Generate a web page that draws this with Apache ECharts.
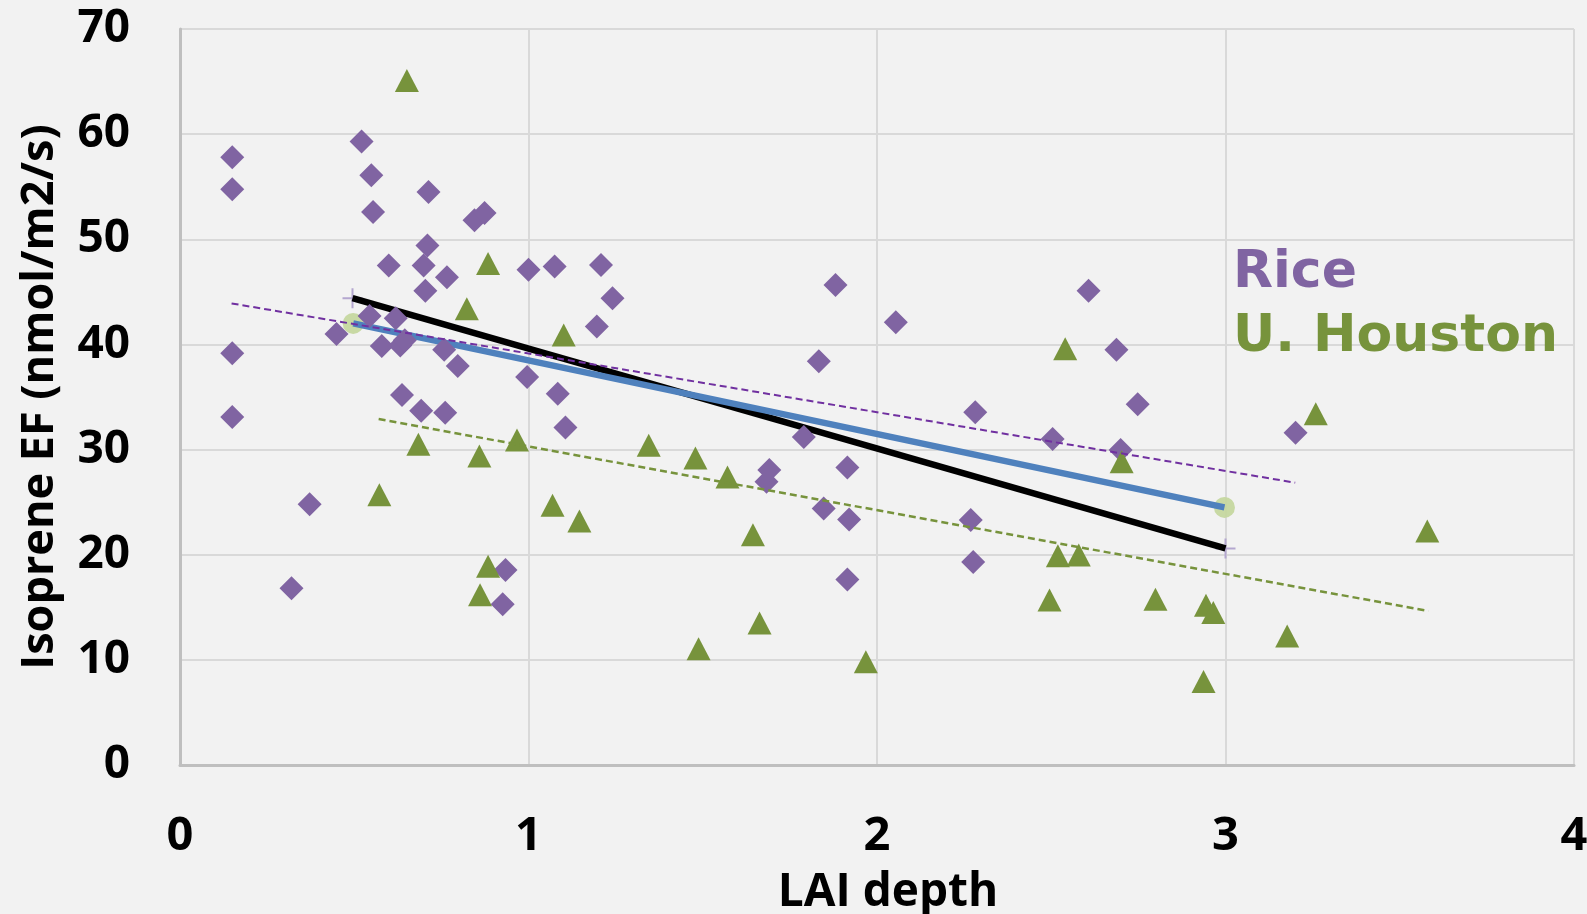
<!DOCTYPE html>
<html>
<head>
<meta charset="utf-8">
<script src="https://cdn.jsdelivr.net/npm/echarts@6/dist/echarts.min.js"></script>
<style>
html,body{margin:0;padding:0;background:#f2f2f2;}
#chart{width:1587px;height:914px;}
</style>
</head>
<body>
<div id="chart"></div>
<script>
// ---- data ----
var xTicks = [0, 1, 2, 3, 4];
var yTicks = [0, 10, 20, 30, 40, 50, 60, 70];

var riceX = [0.150,0.150,0.150,0.150,0.320,0.372,0.449,0.521,0.549,0.554,0.544,0.579,0.599,0.619,0.632,0.645,0.637,0.692,0.699,0.704,0.710,0.713,0.758,0.761,0.766,0.797,0.845,0.874,0.926,0.934,0.996,1.000,1.075,1.084,1.106,1.196,1.208,1.241,1.683,1.691,1.790,1.833,1.847,1.881,1.915,1.920,1.915,2.054,2.269,2.276,2.282,2.504,2.607,2.687,2.699,2.748,3.201];
var riceY = [57.8,54.75,39.15,33.1,16.8,24.8,41.0,59.3,56.1,52.6,42.7,39.85,47.5,42.5,39.9,40.4,35.2,33.7,47.5,45.1,49.4,54.5,39.5,33.5,46.4,37.95,51.8,52.5,15.3,18.55,36.9,47.1,47.4,35.3,32.1,41.7,47.55,44.4,26.95,28.06,31.2,38.4,24.4,45.65,28.3,23.35,17.65,42.1,23.3,19.3,33.55,31.0,45.1,39.5,29.96,34.3,31.6];

var uhX = [0.572,0.651,0.684,0.823,0.859,0.861,0.884,0.884,0.967,1.069,1.101,1.146,1.345,1.479,1.488,1.571,1.644,1.663,1.968,2.495,2.519,2.540,2.579,2.702,2.799,2.937,2.944,2.965,3.177,3.259,3.579];
var uhY = [25.7,65.1,30.5,43.4,29.4,16.2,47.7,18.9,30.9,24.7,40.9,23.2,30.4,29.2,11.06,27.4,21.9,13.5,9.83,15.7,19.9,39.6,19.97,28.85,15.76,7.93,15.2,14.5,12.27,33.4,22.25];

var riceTrendX = [0.148, 3.2];
var riceTrendY = [43.9, 26.85];
var uhTrendX = [0.570, 3.582];
var uhTrendY = [32.9, 14.65];
var blackX = [0.495, 3.0];
var blackY = [44.4, 20.6];
var blueX = [0.497, 2.997];
var blueY = [42.0, 24.5];

var legendNames = ['Rice', 'U. Houston'];
var xTitle = 'LAI depth';
var yTitle = 'Isoprene EF (nmol/m2/s)';

function zip(a, b) { return a.map(function (v, i) { return [v, b[i]]; }); }

var chart = echarts.init(document.getElementById('chart'), null, {renderer: 'canvas'});
var plusPath = 'path://M-1,-10 L1,-10 L1,-1 L10,-1 L10,1 L1,1 L1,10 L-1,10 L-1,1 L-10,1 L-10,-1 L-1,-1 Z';

var option = {
  backgroundColor: '#f2f2f2',
  animation: false,
  grid: {left: 180, right: 13, top: 29, bottom: 149, containLabel: false, outerBoundsMode: 'none'},
  xAxis: {
    type: 'value', min: xTicks[0], max: xTicks[xTicks.length - 1], interval: 1,
    name: xTitle, nameLocation: 'middle', nameGap: 105,
    nameTextStyle: {fontFamily: 'Open Sans', fontWeight: 'bold', fontSize: 46, color: '#000', padding: [0, 0, 0, 22]},
    axisLine: {show: true, onZero: false, lineStyle: {color: '#bfbfbf', width: 3}},
    axisTick: {show: false},
    splitLine: {show: true, lineStyle: {color: '#d9d9d9', width: 2}},
    axisLabel: {fontFamily: 'Open Sans', fontWeight: 'bold', fontSize: 47, color: '#000', margin: 48}
  },
  yAxis: {
    type: 'value', min: yTicks[0], max: yTicks[yTicks.length - 1], interval: 10,
    name: yTitle, nameLocation: 'middle', nameGap: 117,
    nameTextStyle: {fontFamily: 'Open Sans', fontWeight: 'bold', fontSize: 45, color: '#000'},
    axisLine: {show: true, onZero: false, lineStyle: {color: '#bfbfbf', width: 3}},
    axisTick: {show: false},
    splitLine: {show: true, lineStyle: {color: '#d9d9d9', width: 2}},
    axisLabel: {fontFamily: 'Open Sans', fontWeight: 'bold', fontSize: 46, color: '#000', margin: 50}
  },
  series: [
    {
      type: 'line', data: zip(blackX, blackY), symbol: 'none', z: 2,
      lineStyle: {color: '#000', width: 6.5}
    },
    {
      type: 'scatter', data: zip(blackX, blackY), symbol: plusPath, symbolSize: 20, z: 1,
      itemStyle: {color: '#b4a7cf', opacity: 1}
    },
    {
      type: 'scatter', data: zip(blueX, blueY), symbol: 'circle', symbolSize: 21, z: 2,
      itemStyle: {color: '#c3d69b', opacity: 0.9}
    },
    {
      type: 'line', data: zip(blueX, blueY), symbol: 'none', z: 3,
      lineStyle: {color: '#4f81bd', width: 6.5}
    },
    {
      name: legendNames[0], type: 'scatter', data: zip(riceX, riceY), symbol: 'diamond', symbolSize: 24, z: 4,
      itemStyle: {color: '#8064a2', opacity: 1}
    },
    {
      name: legendNames[1], type: 'scatter', data: zip(uhX, uhY), symbol: 'triangle', symbolSize: [24, 23], z: 5,
      itemStyle: {color: '#77933c', opacity: 1}
    },
    {
      type: 'line', data: zip(riceTrendX, riceTrendY), symbol: 'none', z: 6,
      lineStyle: {color: '#7030a0', width: 2, type: [7, 4]}
    },
    {
      type: 'line', data: zip(uhTrendX, uhTrendY), symbol: 'none', z: 6,
      lineStyle: {color: '#77933c', width: 2.5, type: [7, 4]}
    }
  ],
  graphic: [
    {type: 'text', left: 1233, top: 247, z: 100,
      style: {text: legendNames[0], fill: '#8064a2', font: 'bold 52px "DejaVu Sans"'}},
    {type: 'text', left: 1233, top: 311, z: 100,
      style: {text: legendNames[1], fill: '#77933c', font: 'bold 52px "DejaVu Sans"'}}
  ]
};
chart.setOption(option);
</script>
</body>
</html>
